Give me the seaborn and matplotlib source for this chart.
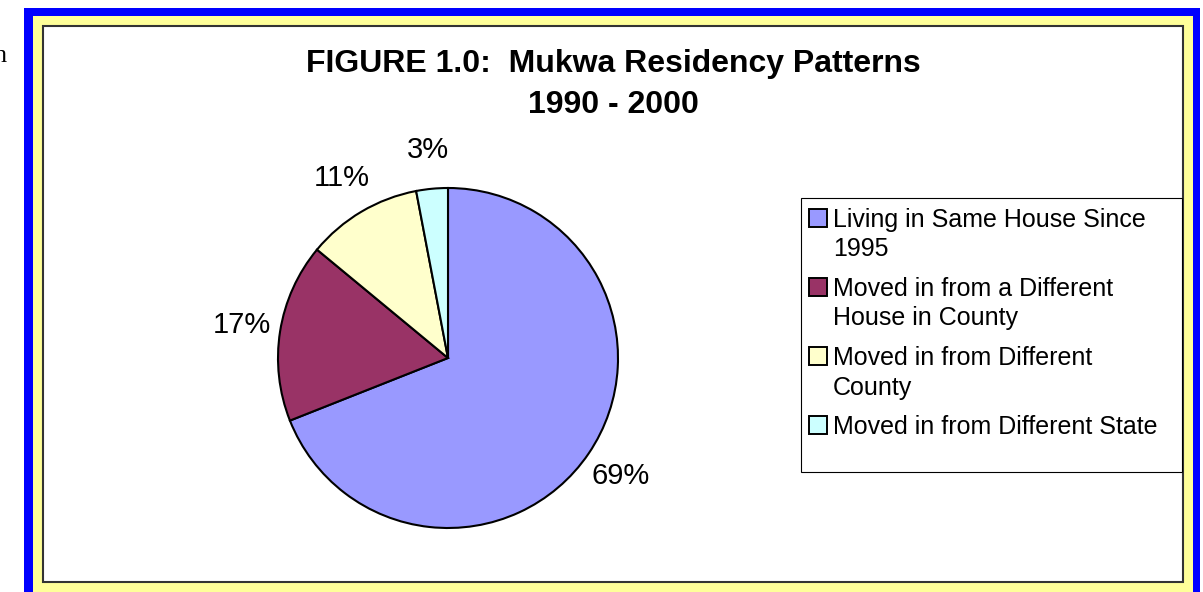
import matplotlib
matplotlib.use("Agg")
import matplotlib.pyplot as plt
from matplotlib.patches import Rectangle
import seaborn as sns

# data
categories = [
    "Living in Same House Since\n1995",
    "Moved in from a Different\nHouse in County",
    "Moved in from Different\nCounty",
    "Moved in from Different State",
]
shares = [69, 17, 11, 3]
slice_colors = ["#9999FF", "#993366", "#FFFFCC", "#CCFFFF"]
title_lines = ["FIGURE 1.0:  Mukwa Residency Patterns", "1990 - 2000"]

W, H = 1203, 592

sns.set_theme(style="white")
plt.rcParams["font.family"] = ["Liberation Sans", "DejaVu Sans"]
plt.rcParams["text.color"] = "black"
palette = sns.color_palette(slice_colors)


def fx(x):
    return x / W


def fy(y):
    return 1 - y / H


def px_rect(x0, y0, x1, y1, **kw):
    return Rectangle((fx(x0), fy(y1)), fx(x1) - fx(x0), fy(y0) - fy(y1),
                     transform=fig.transFigure, **kw)


fig = plt.figure(figsize=(W / 100, H / 100), dpi=100)
fig.patch.set_facecolor("white")

# the framed box around the chart
fig.add_artist(px_rect(24, 8, 1200, 610, facecolor="#0000FF",
                       edgecolor="none", zorder=-3))
fig.add_artist(px_rect(33, 16, 1193, 610, facecolor="#FFFF99",
                       edgecolor="none", zorder=-2))
fig.add_artist(px_rect(43, 26, 1183, 582, facecolor="white",
                       edgecolor="#333333", linewidth=1.5, zorder=-1))

# stray letter from the surrounding document
fig.text(fx(7), fy(62), "n", family=["Liberation Serif", "DejaVu Serif"],
         fontsize=19, ha="right", va="baseline", color="black")

# title
fig.text(fx(613), fy(64), title_lines[0], fontsize=23, fontweight="bold",
         ha="center", va="center", color="black")
fig.text(fx(613), fy(105), title_lines[1], fontsize=23, fontweight="bold",
         ha="center", va="center", color="black")

# pie
cx, cy, r = 448, 358, 170
ax = fig.add_axes([fx(cx - r), fy(cy + r), 2 * r / W, 2 * r / H])
ax.set_zorder(2)
wedges, texts, autotexts = ax.pie(
    shares,
    colors=palette,
    startangle=90,
    counterclock=False,
    autopct="%.0f%%",
    pctdistance=1.23,
    wedgeprops=dict(edgecolor="black", linewidth=1.5),
    textprops=dict(fontsize=21, color="black"),
)
ax.set_xlim(-1, 1)
ax.set_ylim(-1, 1)
ax.axis("off")

# legend box, drawn by hand so the swatch sits on the first text line
fig.add_artist(px_rect(801, 198, 1182, 472, facecolor="white",
                       edgecolor="black", linewidth=0.8, zorder=0))
line_h = 29.5
entry_gap = 10
y = 218
for label, col in zip(categories, palette):
    fig.add_artist(px_rect(809, y - 9, 827, y + 9, facecolor=col,
                           edgecolor="black", linewidth=1.4, zorder=1))
    for line in label.split("\n"):
        fig.text(fx(833), fy(y + 9), line, fontsize=18, ha="left",
                 va="baseline", color="black")
        y += line_h
    y += entry_gap

fig.savefig("out.png", dpi=100)
